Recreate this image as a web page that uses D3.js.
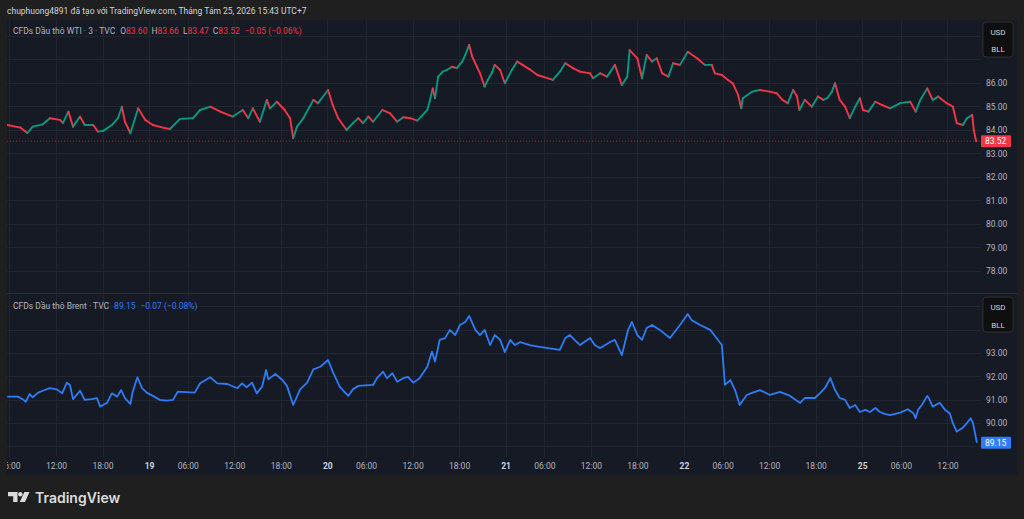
<!DOCTYPE html>
<html>
<head>
<meta charset="utf-8">
<script src="https://cdn.jsdelivr.net/npm/d3@7"></script>
<style>
  html, body { margin: 0; padding: 0; background: #1f1f1f; overflow: hidden; }
  svg { display: block; font-family: Roboto, "Noto Sans", sans-serif; }
</style>
</head>
<body>
<svg id="chart_id" width="1024" height="519"></svg>
<script>
// WTI 3-min candles (session hours since 18 Aug 00:00, close price)
var wtiHour = [4.7,6.4,7.3,8.0,9.3,10.2,11.5,11.9,12.6,13.2,14.1,14.7,15.8,16.4,17.1,18.2,19.0,19.5,19.9,20.6,
  21.2,21.6,22.5,23.5,24.8,25.7,27.0,28.7,29.6,30.9,32.2,33.8,35.1,35.8,36.4,37.3,38.2,38.6,39.5,40.5,
  41.2,41.6,42.1,42.9,44.2,44.8,46.1,46.7,47.4,48.5,49.3,50.0,50.6,51.3,51.9,53.1,54.1,55.0,55.8,56.7,
  57.6,58.2,58.9,59.2,59.6,59.9,60.3,60.9,61.4,62.1,62.7,63.4,63.8,64.3,64.7,65.3,65.7,66.3,66.7,67.2,
  67.6,68.3,68.9,69.8,70.5,71.2,72.1,73.1,73.8,75.1,76.0,76.7,77.7,78.6,79.9,80.3,81.2,82.1,83.1,84.0,
  84.7,85.0,86.0,86.6,87.2,87.9,88.5,89.2,90.0,90.6,91.5,92.5,93.7,94.7,95.6,96.0,96.9,97.7,98.3,99.0,
  99.4,99.6,100.8,101.8,103.1,104.0,104.7,105.4,106.1,106.6,106.9,107.6,108.5,109.3,110.0,110.5,111.1,111.5,112.1,112.8,
  113.4,114.1,114.7,115.1,115.8,116.7,117.6,118.6,119.9,121.2,121.9,122.5,123.4,124.1,124.8,125.9,126.7,127.2,128.0,128.5,
  129.2,129.4,129.7];
var wtiClose = [84.21,84.10,83.87,84.14,84.24,84.50,84.43,84.30,84.78,84.14,84.57,84.21,84.21,83.93,83.96,84.21,84.50,84.99,84.35,83.86,
  84.50,84.92,84.43,84.21,84.10,84.04,84.47,84.50,84.85,84.99,84.78,84.57,84.85,84.50,84.92,84.35,85.28,84.92,85.20,84.85,
  84.50,83.65,84.14,84.50,85.28,85.14,85.70,85.06,84.50,84.00,84.29,84.50,84.29,84.57,84.35,84.85,84.71,84.35,84.54,84.50,
  84.40,84.60,84.85,85.20,85.77,85.35,86.27,86.48,86.55,86.69,86.63,86.91,87.19,87.62,87.12,86.69,86.41,85.84,86.13,86.41,
  86.77,86.55,85.99,86.55,86.91,86.77,86.58,86.34,86.27,86.13,86.48,86.84,86.63,86.48,86.41,86.20,86.41,86.27,86.77,85.91,
  86.27,87.40,87.05,86.20,87.19,86.91,87.05,86.41,86.27,86.84,86.77,87.33,87.05,86.77,86.77,86.41,86.34,86.13,85.99,85.49,
  84.92,85.35,85.63,85.70,85.63,85.56,85.28,85.14,85.70,85.42,84.85,85.28,84.99,85.42,85.28,85.35,85.63,85.99,85.28,84.99,
  84.50,84.99,85.35,84.85,84.78,85.20,85.06,84.92,85.14,85.20,84.78,85.28,85.77,85.28,85.42,85.14,84.99,84.29,84.21,84.50,
  84.64,84.00,83.52];
var wtiLastBar = [83.60, 83.66, 83.47, 83.52];   // O H L C
var wtiChange = ["\u22120.05", "(\u22120.06%)"];

// Brent line
var brentHour = [4.7,6.1,6.7,7.1,7.6,8.0,8.7,9.3,10.2,11.1,11.8,12.4,12.8,13.2,14.1,14.7,15.6,16.3,16.7,17.6,
  18.2,18.9,19.4,19.9,20.6,20.9,21.5,22.1,22.7,23.5,24.4,25.3,26.1,26.7,28.9,29.6,30.9,31.8,33.1,34.4,
  35.0,35.6,36.3,36.9,37.6,38.1,38.4,39.3,40.2,40.8,41.6,42.5,43.4,44.2,45.1,46.1,46.7,47.6,48.0,48.7,
  49.3,50.0,51.9,52.4,53.2,53.7,54.4,55.0,55.8,56.4,57.1,57.9,58.9,59.5,59.9,60.5,61.2,61.8,62.5,63.1,
  63.8,64.3,65.1,65.7,66.3,67.0,67.6,68.3,68.9,69.6,70.2,70.9,72.1,73.4,76.0,76.7,77.3,77.9,78.6,79.9,
  80.5,81.2,82.5,83.1,84.0,84.8,85.3,86.0,86.6,87.2,87.9,88.9,90.2,91.5,92.5,93.0,94.1,95.4,96.4,96.9,
  97.3,98.0,98.6,99.2,100.1,100.8,101.8,103.1,104.4,105.7,107.0,107.6,108.9,109.6,110.2,110.9,111.5,112.1,112.8,113.4,
  114.1,114.7,115.4,116.0,116.7,117.3,117.9,118.6,119.9,120.9,121.6,121.9,122.2,122.7,123.4,123.6,124.1,125.0,125.7,126.3,
  126.7,127.2,127.9,128.5,129.0,129.3,129.8];
var brentClose = [91.13,91.13,91.02,90.91,91.24,91.10,91.30,91.38,91.49,91.44,91.27,91.73,91.63,91.02,91.38,90.99,91.02,91.06,90.70,90.87,
  91.27,91.13,91.41,91.06,90.81,91.34,91.96,91.49,91.30,91.16,90.99,90.96,90.99,91.34,91.30,91.70,91.96,91.70,91.67,91.49,
  91.70,91.53,91.73,91.27,91.56,92.27,91.87,92.10,91.84,91.59,90.77,91.44,91.73,92.30,92.41,92.70,92.20,91.56,91.41,91.16,
  91.44,91.59,91.63,91.92,92.20,91.92,92.13,91.77,91.92,91.98,91.73,91.92,92.41,93.06,92.63,93.56,93.64,93.99,93.77,94.20,
  94.33,94.59,93.99,93.77,93.99,93.34,93.77,93.56,93.04,93.56,93.34,93.47,93.34,93.26,93.13,93.64,93.77,93.56,93.34,93.64,
  93.34,93.21,93.47,93.56,92.91,93.99,94.33,93.77,93.56,94.07,94.20,93.99,93.64,94.20,94.67,94.41,94.20,93.99,93.56,93.34,
  91.63,91.84,91.41,90.77,91.20,91.29,91.41,91.20,91.33,91.16,90.86,91.07,91.07,91.29,91.50,91.93,91.41,91.07,90.99,90.64,
  90.77,90.47,90.56,90.47,90.64,90.47,90.39,90.34,90.44,90.59,90.42,90.20,90.56,90.77,91.16,91.06,90.70,90.87,90.56,90.42,
  89.99,89.63,89.77,89.99,90.20,89.99,89.15];
var brentChange = ["\u22120.07", "(\u22120.08%)"];

// axes
var timeTickHour  = [5,11,17,23,28,34,40,46,51,57,63,69,74,80,86,92,97,103,109,115,120,126];
var timeTickLabel = ["06:00","12:00","18:00","19","06:00","12:00","18:00","20","06:00","12:00","18:00",
  "21","06:00","12:00","18:00","22","06:00","12:00","18:00","25","06:00","12:00"];
var wtiGrid   = [77,78,79,80,81,82,83,84,85,86,87,88];
var wtiTicks  = [78,79,80,81,82,83,84,85,86];
var brentGrid = [89,90,91,92,93,94,95];
var brentTicks = [90,91,92,93];

var headerText = "chuphuong4891 \u0111\u00e3 t\u1ea1o v\u1edbi TradingView.com, Th\u00e1ng T\u00e1m 25, 2026 15:43 UTC+7";

var colUp = "#089981", colDown = "#f23645", colBrent = "#2f7cf6";
var paneBg = "#161a25", gridCol = "#21252f", textCol = "#b2b5be";

var plotLeft = 7, plotRight = 981, paneRight = 1017;
var top0 = 20, top1 = 293, bot0 = 294, bot1 = 457, axisEnd = 475;

var svg = d3.select("#chart_id");

var x = d3.scaleLinear().domain([4.68, 130.33]).range([plotLeft, plotRight]);
var yW = d3.scaleLinear().domain([77.06, 88.68]).range([top1, top0]);
var yB = d3.scaleLinear().domain([88.54, 95.53]).range([bot1, bot0]);

// background + panes
svg.append("rect").attr("width", 1024).attr("height", 519).attr("fill", "#1f1f1f");
svg.append("rect").attr("x", plotLeft).attr("y", top0).attr("width", paneRight - plotLeft)
  .attr("height", axisEnd - top0).attr("fill", paneBg);

var defs = svg.append("defs");
defs.append("clipPath").attr("id", "clipTop").append("rect")
  .attr("x", plotLeft).attr("y", top0).attr("width", plotRight - plotLeft).attr("height", top1 - top0);
defs.append("clipPath").attr("id", "clipBot").append("rect")
  .attr("x", plotLeft).attr("y", bot0).attr("width", plotRight - plotLeft).attr("height", bot1 - bot0);
defs.append("clipPath").attr("id", "clipAxis").append("rect")
  .attr("x", plotLeft).attr("y", bot1).attr("width", plotRight - plotLeft).attr("height", axisEnd - bot1);

// grid
var grid = svg.append("g").attr("stroke", gridCol).attr("stroke-width", 1);
timeTickHour.forEach(function (h) {
  var xx = Math.round(x(h)) + 0.5;
  grid.append("line").attr("x1", xx).attr("x2", xx).attr("y1", top0).attr("y2", bot1);
});
wtiGrid.forEach(function (v) {
  var yy = Math.round(yW(v)) + 0.5;
  grid.append("line").attr("x1", plotLeft).attr("x2", plotRight).attr("y1", yy).attr("y2", yy)
    .attr("clip-path", "url(#clipTop)");
});
brentGrid.forEach(function (v) {
  var yy = Math.round(yB(v)) + 0.5;
  grid.append("line").attr("x1", plotLeft).attr("x2", plotRight).attr("y1", yy).attr("y2", yy)
    .attr("clip-path", "url(#clipBot)");
});

// pane separator
svg.append("line").attr("x1", plotLeft).attr("x2", paneRight).attr("y1", top1 + 0.5).attr("y2", top1 + 0.5)
  .attr("stroke", "#2a2e39");

// WTI candles (open = previous close)
var wtiBars = wtiHour.map(function (h, i) {
  return { h0: i ? wtiHour[i - 1] : h, h: h, o: i ? wtiClose[i - 1] : wtiClose[i], c: wtiClose[i] };
});
var gW = svg.append("g").attr("clip-path", "url(#clipTop)");

// last-price dotted line
gW.append("line").attr("x1", plotLeft).attr("x2", plotRight)
  .attr("y1", yW(wtiLastBar[3])).attr("y2", yW(wtiLastBar[3]))
  .attr("stroke", colDown).attr("stroke-opacity", 0.55).attr("stroke-dasharray", "1,2");

gW.selectAll("line.bar").data(wtiBars.slice(1)).enter().append("line")
  .attr("class", "bar")
  .attr("x1", function (d) { return x(d.h0); })
  .attr("x2", function (d) { return x(d.h); })
  .attr("y1", function (d) { return yW(d.o); })
  .attr("y2", function (d) { return yW(d.c); })
  .attr("stroke", function (d) { return d.c >= d.o ? colUp : colDown; })
  .attr("stroke-width", 1.9)
  .attr("stroke-linecap", "round");

// Brent line
var gB = svg.append("g").attr("clip-path", "url(#clipBot)");
var line = d3.line()
  .x(function (d, i) { return x(brentHour[i]); })
  .y(function (d) { return yB(d); });
gB.append("path").datum(brentClose).attr("d", line)
  .attr("fill", "none").attr("stroke", colBrent).attr("stroke-width", 1.8).attr("stroke-linejoin", "round");

// price axes
function priceAxis(scale, ticks) {
  return d3.axisRight(scale).tickValues(ticks).tickFormat(d3.format(".2f")).tickSize(0).tickPadding(5);
}
[[yW, wtiTicks], [yB, brentTicks]].forEach(function (p) {
  var g = svg.append("g").attr("transform", "translate(" + plotRight + ",0)").call(priceAxis(p[0], p[1]));
  g.select(".domain").remove();
  g.selectAll("text").attr("fill", textCol).attr("font-size", 8.5)
    .attr("font-family", "Roboto, sans-serif");
});

// time axis (clip on an outer group so the clip box stays in page coordinates)
var tAxis = d3.axisBottom(x).tickValues(timeTickHour)
  .tickFormat(function (d, i) { return timeTickLabel[i]; }).tickSize(0).tickPadding(6);
var gt = svg.append("g").attr("clip-path", "url(#clipAxis)")
  .append("g").attr("transform", "translate(0," + bot1 + ")").call(tAxis);
gt.select(".domain").remove();
gt.selectAll("text").attr("font-size", 8.5).attr("font-family", "Roboto, sans-serif")
  .attr("fill", function (d, i) { return timeTickLabel[i].length < 3 ? "#d1d4dc" : textCol; })
  .attr("font-weight", function (d, i) { return timeTickLabel[i].length < 3 ? "bold" : "normal"; });

// last value labels
function lastLabel(yy, txt, fill) {
  svg.append("rect").attr("x", plotRight).attr("y", yy - 6).attr("width", 30).attr("height", 12)
    .attr("rx", 1).attr("fill", fill);
  svg.append("text").attr("x", plotRight + 4).attr("y", yy + 3).attr("fill", "#ffffff")
    .attr("font-size", 8.5).text(txt);
}
lastLabel(yW(wtiLastBar[3]), d3.format(".2f")(wtiLastBar[3]), colDown);
lastLabel(yB(brentClose[brentClose.length - 1]), d3.format(".2f")(brentClose[brentClose.length - 1]), colBrent);

// currency / unit boxes
[[22, 31.5, 48.5], [297, 307, 324.5]].forEach(function (b) {
  svg.append("rect").attr("x", 983).attr("y", b[0]).attr("width", 30).attr("height", 35).attr("rx", 3)
    .attr("fill", "#0f0f0f").attr("stroke", "#2e2e2e");
  svg.append("text").attr("x", 998).attr("y", b[1] + 3).attr("text-anchor", "middle")
    .attr("fill", "#d1d4dc").attr("font-size", 8).text("USD");
  svg.append("text").attr("x", 998).attr("y", b[2] + 3).attr("text-anchor", "middle")
    .attr("fill", "#d1d4dc").attr("font-size", 8).text("BLL");
});

// header
svg.append("text").attr("x", 7).attr("y", 14).attr("fill", "#d1d4dc").attr("font-size", 8.5).text(headerText);

// legends
var fmt = d3.format(".2f");
var lg = svg.append("text").attr("x", 13).attr("y", 33.5).attr("font-size", 8.5).attr("fill", textCol);
lg.append("tspan").text("CFDs D\u1ea7u th\u00f4 WTI \u00b7 3 \u00b7 TVC");
["O", "H", "L", "C"].forEach(function (k, i) {
  lg.append("tspan").attr("dx", i ? 4 : 5).attr("fill", textCol).text(k);
  lg.append("tspan").attr("fill", colDown).text(fmt(wtiLastBar[i]));
});
lg.append("tspan").attr("dx", 5).attr("fill", colDown).text(wtiChange[0] + " " + wtiChange[1]);

var lb = svg.append("text").attr("x", 13).attr("y", 309).attr("font-size", 8.5).attr("fill", textCol);
lb.append("tspan").text("CFDs D\u1ea7u th\u00f4 Brent \u00b7 TVC");
lb.append("tspan").attr("dx", 5).attr("fill", colBrent).text(fmt(brentClose[brentClose.length - 1]));
lb.append("tspan").attr("dx", 5).attr("fill", colBrent).text(brentChange[0] + " " + brentChange[1]);

// TradingView logo
var logo = svg.append("g").attr("fill", "#dcdcdc");
logo.append("path").attr("d", "M8,492 H17.5 V502 H13.2 V496.2 H8 Z");
logo.append("circle").attr("cx", 20.3).attr("cy", 494.2).attr("r", 2.2);
logo.append("path").attr("d", "M24.3,492 H29.5 L25,502 H19.8 Z");
svg.append("text").attr("x", 35).attr("y", 502.5).attr("fill", "#dcdcdc").attr("font-size", 14)
  .attr("font-weight", 600).attr("font-family", "Inter, Roboto, sans-serif").text("TradingView");
</script>
</body>
</html>
